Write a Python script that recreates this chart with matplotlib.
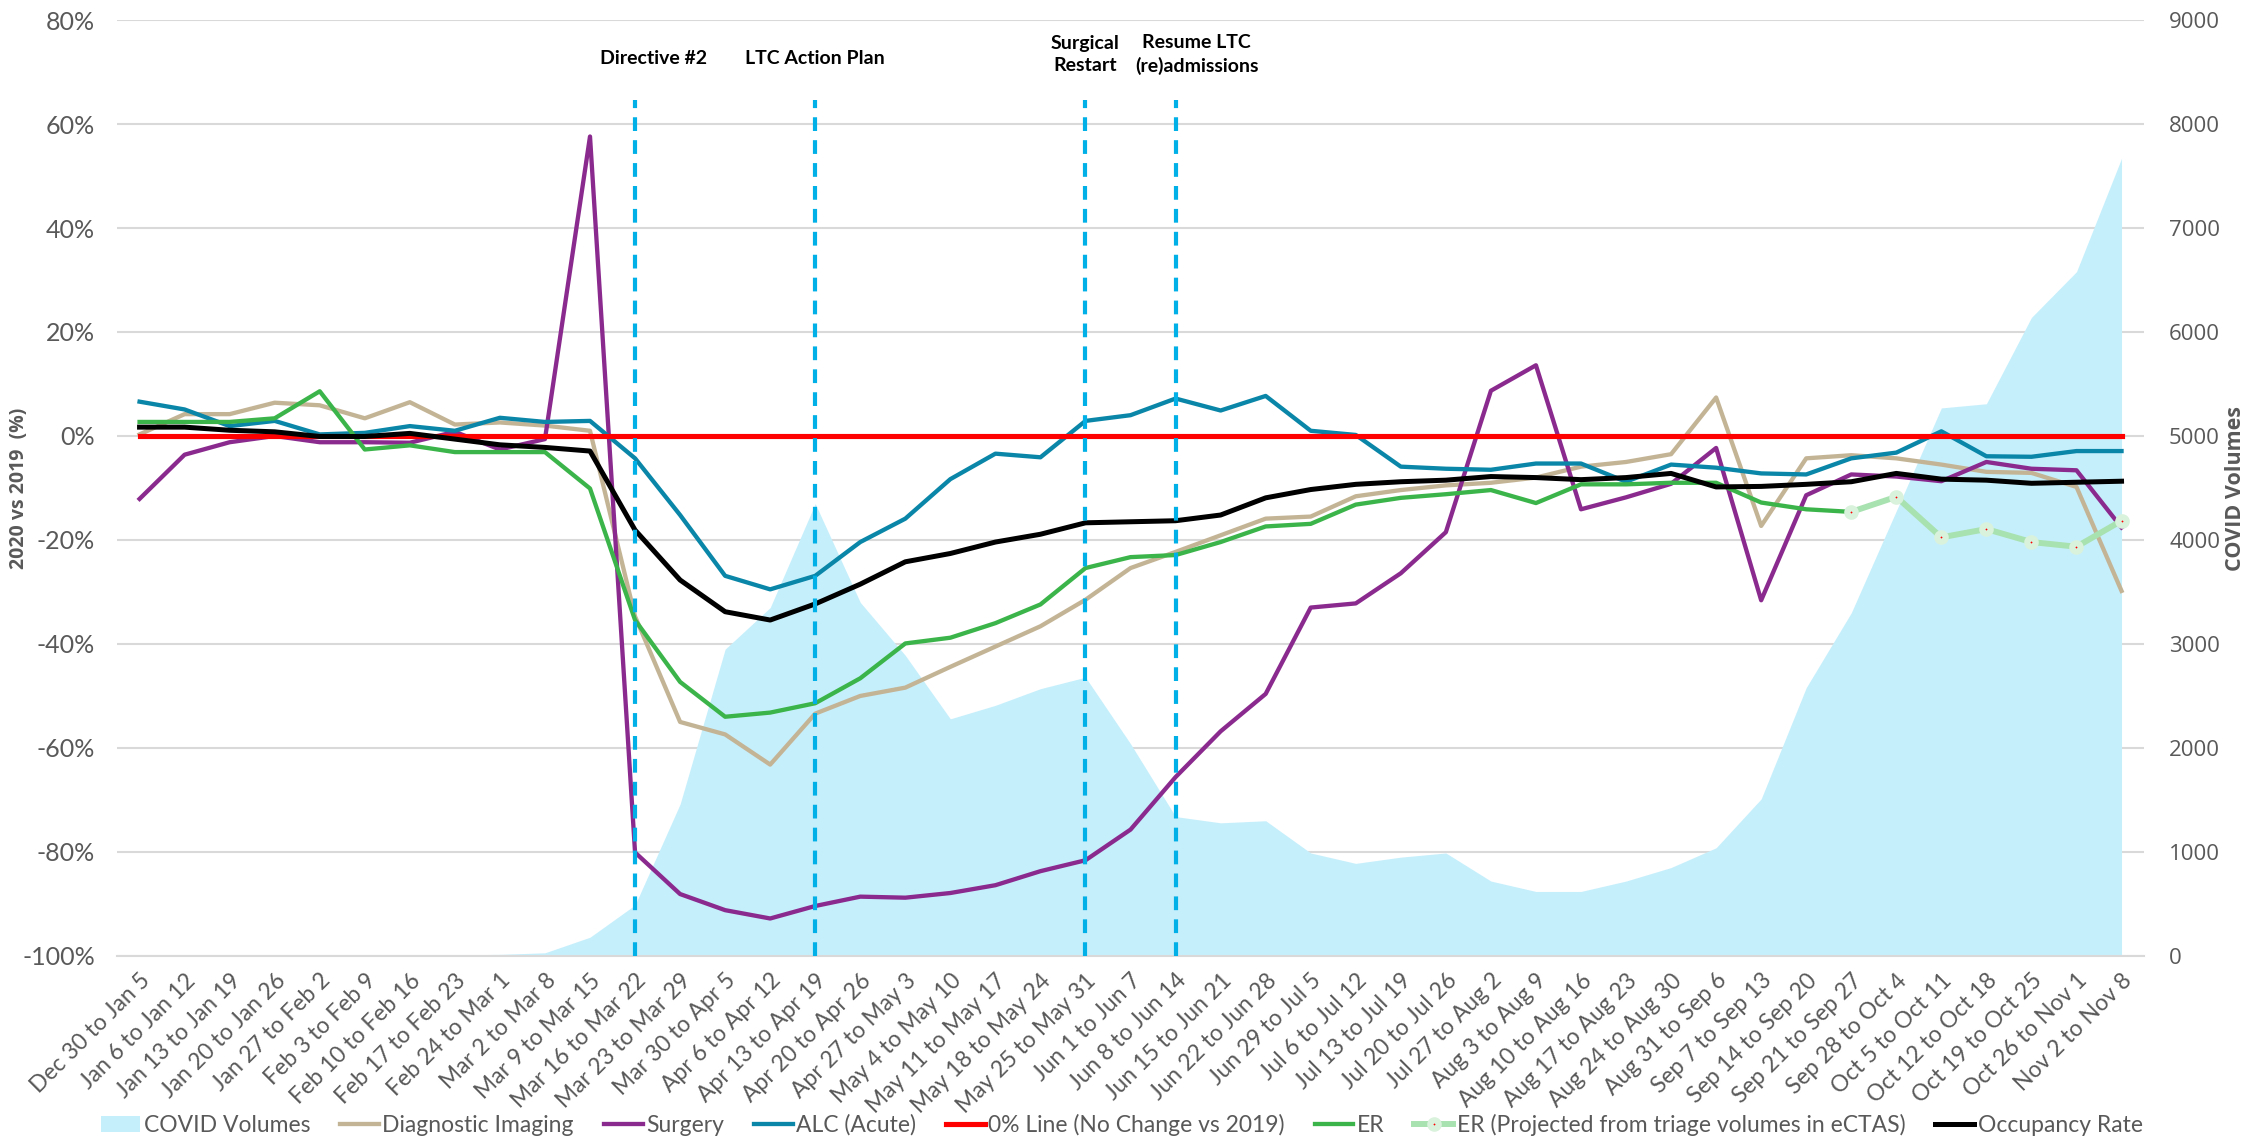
import matplotlib
matplotlib.use("Agg")
import matplotlib.pyplot as plt
from matplotlib.ticker import FuncFormatter, MultipleLocator
import numpy as np

# weekly periods (2020)
weeks = ["Dec 30 to Jan 5", "Jan 6 to Jan 12", "Jan 13 to Jan 19", "Jan 20 to Jan 26",
         "Jan 27 to Feb 2", "Feb 3 to Feb 9", "Feb 10 to Feb 16", "Feb 17 to Feb 23",
         "Feb 24 to Mar 1", "Mar 2 to Mar 8", "Mar 9 to Mar 15", "Mar 16 to Mar 22",
         "Mar 23 to Mar 29", "Mar 30 to Apr 5", "Apr 6 to Apr 12", "Apr 13 to Apr 19",
         "Apr 20 to Apr 26", "Apr 27 to May 3", "May 4 to May 10", "May 11 to May 17",
         "May 18 to May 24", "May 25 to May 31", "Jun 1 to Jun 7", "Jun 8 to Jun 14",
         "Jun 15 to Jun 21", "Jun 22 to Jun 28", "Jun 29 to Jul 5", "Jul 6 to Jul 12",
         "Jul 13 to Jul 19", "Jul 20 to Jul 26", "Jul 27 to Aug 2", "Aug 3 to Aug 9",
         "Aug 10 to Aug 16", "Aug 17 to Aug 23", "Aug 24 to Aug 30", "Aug 31 to Sep 6",
         "Sep 7 to Sep 13", "Sep 14 to Sep 20", "Sep 21 to Sep 27", "Sep 28 to Oct 4",
         "Oct 5 to Oct 11", "Oct 12 to Oct 18", "Oct 19 to Oct 25", "Oct 26 to Nov 1",
         "Nov 2 to Nov 8"]

covid_volumes = [0, 0, 0, 0, 0, 0, 5, 10, 15, 30, 180, 490, 1460, 2950, 3350, 4350,
                 3400, 2890, 2280, 2410, 2570, 2680, 2040, 1340, 1280, 1300, 990, 890,
                 950, 990, 720, 620, 620, 720, 850, 1040, 1510, 2580, 3300, 4280, 5270,
                 5310, 6140, 6580, 7670]

diagnostic = [0.3, 4.2, 4.2, 6.4, 5.9, 3.4, 6.5, 2.2, 2.6, 2.0, 1.0, -34.7, -55.0, -57.4,
              -63.2, -53.4, -50.0, -48.4, -44.4, -40.5, -36.6, -31.5, -25.4, -22.3, -19.1,
              -15.9, -15.5, -11.6, -10.4, -9.5, -9.0, -8.0, -5.9, -5.0, -3.5, 7.4, -17.3,
              -4.3, -3.7, -4.3, -5.5, -6.9, -7.1, -9.8, -29.8]

surgery = [-12.1, -3.6, -1.2, 0.0, -1.2, -1.2, -1.3, 0.8, -2.6, -0.6, 57.6, -80.1, -88.1,
           -91.2, -92.8, -90.4, -88.6, -88.8, -87.9, -86.4, -83.7, -81.6, -75.7, -65.6,
           -56.8, -49.6, -33.0, -32.2, -26.4, -18.5, 8.7, 13.6, -14.1, -11.8, -9.2, -2.3,
           -31.6, -11.4, -7.4, -7.8, -8.7, -5.0, -6.3, -6.6, -17.6]

alc = [6.6, 5.1, 1.9, 2.9, 0.3, 0.6, 1.9, 1.0, 3.5, 2.7, 2.9, -4.3, -15.2, -26.9, -29.5,
       -26.9, -20.4, -15.9, -8.3, -3.4, -4.1, 2.9, 4.0, 7.2, 4.9, 7.7, 1.0, 0.2, -5.9, -6.3,
       -6.5, -5.3, -5.3, -8.8, -5.5, -6.1, -7.2, -7.4, -4.3, -3.2, 0.9, -3.9, -4.0, -2.9, -2.9]

zero_line = [0.0] * 45

er = [2.7, 2.7, 2.7, 3.4, 8.6, -2.6, -1.8, -3.1, -3.1, -3.1, -10.1, -35.4, -47.3, -54.0,
      -53.2, -51.4, -46.6, -39.9, -38.8, -36.0, -32.4, -25.4, -23.3, -22.9, -20.4, -17.4,
      -16.9, -13.2, -11.9, -11.2, -10.4, -12.9, -9.3, -9.3, -9.0, -9.0, -12.8, -14.1, -14.6,
      None, None, None, None, None, None]

er_projected = [None] * 38 + [-14.6, -11.7, -19.5, -17.9, -20.4, -21.3, -16.3]

occupancy = [1.7, 1.7, 1.1, 0.8, -0.1, -0.1, 0.5, -0.6, -1.7, -2.2, -2.9, -18.1, -27.7,
             -33.8, -35.4, -32.3, -28.5, -24.2, -22.6, -20.4, -18.9, -16.7, -16.5, -16.3,
             -15.2, -11.9, -10.3, -9.3, -8.8, -8.5, -7.8, -8.0, -8.4, -8.0, -7.2, -9.8, -9.7,
             -9.3, -8.8, -7.2, -8.3, -8.5, -9.1, -8.9, -8.7]

events = ["Directive #2", "LTC Action Plan", "Surgical\nRestart", "Resume LTC\n(re)admissions"]
event_weeks = ["Mar 16 to Mar 22", "Apr 13 to Apr 19", "May 25 to May 31", "Jun 8 to Jun 14"]

def arr(v):
    return np.array([np.nan if a is None else a for a in v], dtype=float)

x = np.arange(len(weeks))
grey = "#595959"
plt.rcParams["font.family"] = ["Lato", "DejaVu Sans"]
bold_family = ["Open Sans", "DejaVu Sans"]

fig = plt.figure(figsize=(22.55, 11.38), dpi=100)
ax = fig.add_axes([0.0519, 0.160, 0.8989, 0.8224])
ax2 = ax.twinx()

# COVID volumes area on the right axis, behind everything
ax2.fill_between(x, covid_volumes, color="#c6effc", lw=0, label="COVID Volumes")
ax2.set_ylim(0, 9000)
ax2.yaxis.set_major_locator(MultipleLocator(1000))
ax2.yaxis.grid(True, color="#d9d9d9", lw=1.5)
ax2.set_axisbelow(True)
ax.set_zorder(ax2.get_zorder() + 1)
ax.patch.set_visible(False)

lw = 3.1
ax.plot(x, diagnostic, color="#c4b496", lw=lw, label="Diagnostic Imaging")
ax.plot(x, surgery, color="#8b2a8e", lw=lw, label="Surgery")
ax.plot(x, alc, color="#0a86a8", lw=lw, label="ALC (Acute)")
ax.plot(x, zero_line, color="#ff0000", lw=lw + 0.6, label="0% Line (No Change vs 2019)")
ax.plot(x, arr(er), color="#3bb54a", lw=lw, label="ER")
ax.plot(x, arr(er_projected), color="#a9e2b1", lw=lw + 1.2, marker="o", ms=6,
        mfc="#ff0000", mec="#d9f2dc", mew=4.5,
        label="ER (Projected from triage volumes in eCTAS)")
ax.plot(x, occupancy, color="black", lw=lw + 0.5, label="Occupancy Rate")

# event markers, some labels sit a little right of their line like in the original
label_shift = {"Directive #2": 0.4, "Resume LTC\n(re)admissions": 0.47}
for lab, wk in zip(events, event_weeks):
    i = weeks.index(wk)
    ax.plot([i, i], [-100, 64.6], color="#00b0e6", lw=3, dashes=(3.3, 2.2), zorder=5)
    ax.text(i + label_shift.get(lab, 0), 72.6 if "\n" not in lab else 73.4, lab,
            ha="center", va="center", fontsize=14, fontweight="bold", color="black",
            linespacing=1.4)

ax.set_xlim(-0.5, len(weeks) - 0.5)
ax.set_ylim(-100, 80)
ax.yaxis.set_major_locator(MultipleLocator(20))
ax.yaxis.set_major_formatter(FuncFormatter(lambda v, p: f"{v:.0f}%"))
ax.set_xticks(x)
ax.set_xticklabels(weeks, rotation=45, ha="right", rotation_mode="anchor")

for a in (ax, ax2):
    for s in a.spines.values():
        s.set_visible(False)
    a.tick_params(length=0, colors=grey, labelsize=18)
ax.spines["bottom"].set_visible(True)
ax.spines["bottom"].set_color("#d9d9d9")
ax.spines["bottom"].set_linewidth(1.5)
ax.tick_params(axis="x", pad=10, labelsize=16.5)
ax.tick_params(axis="y", pad=16)
ax2.tick_params(axis="y", pad=18)
for t in ax2.get_yticklabels():
    t.set_fontfamily(bold_family)
    t.set_fontsize(16)

fig.text(0.0085, 0.571, "2020 vs 2019  (%)", rotation=90, ha="center", va="center",
         fontsize=14, fontweight="bold", color=grey, family=bold_family)
fig.text(0.9915, 0.571, "COVID Volumes", rotation=90, ha="center", va="center",
         fontsize=15.5, fontweight="bold", color=grey, family=bold_family)

h2, l2 = ax2.get_legend_handles_labels()
h1, l1 = ax.get_legend_handles_labels()
leg = fig.legend(h2 + h1, l2 + l1, loc="lower center", bbox_to_anchor=(0.4975, -0.016),
                 ncol=8, frameon=False, fontsize=16.5, handlelength=1.7,
                 handletextpad=0.15, columnspacing=1.3)
for t in leg.get_texts():
    t.set_color(grey)

fig.savefig("out.png", dpi=100)
